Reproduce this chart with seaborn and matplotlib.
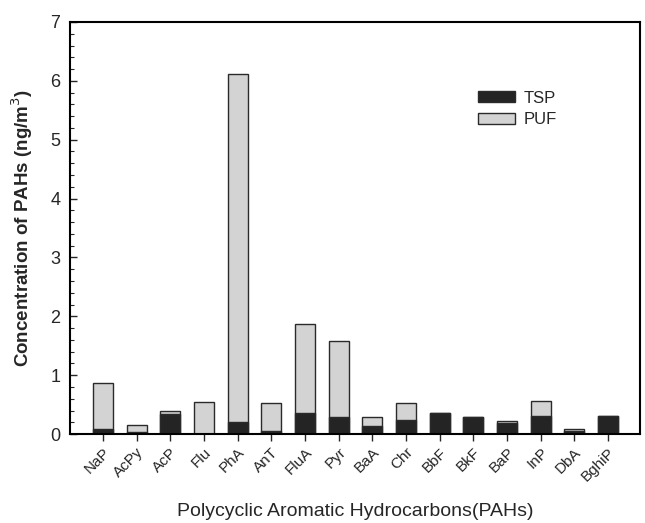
import numpy as np
import pandas as pd
import seaborn as sns
from matplotlib import pyplot as plt
from matplotlib.patches import Patch
from matplotlib.ticker import MultipleLocator

# PAH species on the x axis
pahs = ["NaP", "AcPy", "AcP", "Flu", "PhA", "AnT", "FluA", "Pyr",
        "BaA", "Chr", "BbF", "BkF", "BaP", "InP", "DbA", "BghiP"]
# particle phase (TSP) and gas phase (PUF) concentrations, ng/m3
tsp = [0.08, 0.03, 0.34, 0.01, 0.20, 0.05, 0.36, 0.29,
       0.14, 0.24, 0.36, 0.29, 0.19, 0.31, 0.05, 0.31]
puf = [0.78, 0.12, 0.06, 0.53, 5.92, 0.48, 1.51, 1.29,
       0.15, 0.28, 0.00, 0.00, 0.03, 0.25, 0.03, 0.00]

df = pd.DataFrame({"PAH": pahs, "TSP": tsp, "PUF": puf})
df["Total"] = df["TSP"] + df["PUF"]

sns.set_style("ticks")
plt.rcParams['font.family'] = ['Liberation Sans', 'DejaVu Sans']

fig = plt.figure(figsize=(6.45, 5.23), dpi=100)
ax = fig.add_axes([0.1085, 0.170, 0.8837, 0.788])

# stacked bars: total in light grey, TSP on top of it in near black
sns.barplot(data=df, x="PAH", y="Total", color="#d3d3d3", width=0.6,
            edgecolor="#2a2a2a", linewidth=1.0, saturation=1, ax=ax)
sns.barplot(data=df, x="PAH", y="TSP", color="#242424", width=0.6,
            edgecolor="#2a2a2a", linewidth=1.0, saturation=1, ax=ax)

ax.set_xlim(-0.98, 15.95)
ax.set_ylim(0, 7)
ax.yaxis.set_major_locator(MultipleLocator(1))
ax.yaxis.set_minor_locator(MultipleLocator(0.2))
ax.tick_params(axis="y", which="major", direction="in", length=5, width=1,
               labelsize=13, pad=7)
ax.tick_params(axis="y", which="minor", direction="in", length=3, width=0.8)
ax.tick_params(axis="x", direction="out", length=5, width=1, labelsize=11, pad=3)
plt.setp(ax.get_xticklabels(), rotation=45, ha="right", rotation_mode="anchor")

for s in ax.spines.values():
    s.set_linewidth(1.5)
    s.set_color("black")

ax.set_xlabel("Polycyclic Aromatic Hydrocarbons(PAHs)", fontsize=14)
ax.xaxis.set_label_coords(0.5, -0.167)
ax.set_ylabel("Concentration of PAHs (ng/m$^3$)", fontsize=13.5, fontweight="bold")
ax.yaxis.set_label_coords(-0.062, 0.5)

handles = [Patch(facecolor="#242424", edgecolor="#2a2a2a", label="TSP"),
           Patch(facecolor="#d3d3d3", edgecolor="#2a2a2a", label="PUF")]
ax.legend(handles=handles, loc="upper left", bbox_to_anchor=(0.69, 0.87),
          frameon=False, fontsize=12, handlelength=2.2, handleheight=0.6,
          labelspacing=0.4, handletextpad=0.5)

plt.savefig("out.png", dpi=100)
